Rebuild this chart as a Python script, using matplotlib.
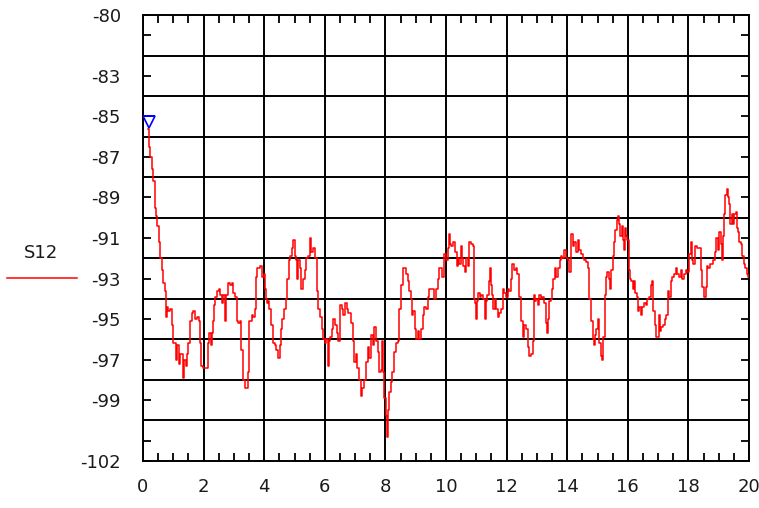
import matplotlib
matplotlib.use("Agg")
import matplotlib.pyplot as plt
from matplotlib.ticker import MultipleLocator, FixedLocator
from matplotlib.lines import Line2D
from matplotlib.transforms import ScaledTranslation

# ---- data ----
freq = [0.18, 0.22, 0.27, 0.32, 0.37, 0.40, 0.45, 0.50, 0.55, 0.60, 0.65, 0.70, 0.74, 0.78,
        0.80, 0.86, 0.92, 0.98, 1.02, 1.09, 1.11, 1.16, 1.21, 1.26, 1.35, 1.38, 1.43, 1.48,
        1.52, 1.55, 1.60, 1.63, 1.70, 1.75, 1.80, 1.87, 1.90, 1.96, 2.03, 2.14, 2.16, 2.22,
        2.26, 2.30, 2.33, 2.36, 2.41, 2.47, 2.52, 2.57, 2.63, 2.68, 2.72, 2.76, 2.83, 2.90,
        2.96, 3.01, 3.07, 3.12, 3.17,
        3.20, 3.26, 3.33, 3.42, 3.48, 3.53, 3.58, 3.62, 3.66, 3.70, 3.73, 3.81, 3.89, 3.96,
        4.00, 4.03, 4.07, 4.11, 4.14, 4.20, 4.26, 4.31, 4.37, 4.42, 4.48, 4.53, 4.57, 4.62,
        4.68, 4.73, 4.79, 4.84, 4.89, 4.92, 4.98, 5.02, 5.06, 5.11, 5.15, 5.20, 5.26, 5.31,
        5.36, 5.42, 5.48, 5.53, 5.59, 5.64, 5.70, 5.76, 5.81, 5.87, 5.92, 5.98, 6.03, 6.08,
        6.12, 6.15, 6.20, 6.25, 6.31, 6.36, 6.42, 6.48, 6.53, 6.58, 6.64, 6.70, 6.75, 6.81,
        6.89, 6.94, 7.00, 7.05, 7.10, 7.16, 7.21, 7.27, 7.33, 7.38, 7.44, 7.49, 7.55, 7.60,
        7.66, 7.71, 7.77, 7.82, 7.87, 7.91, 7.95, 7.99, 8.02, 8.06, 8.11, 8.15, 8.20, 8.26,
        8.32, 8.37, 8.43, 8.48, 8.54, 8.59, 8.65, 8.70, 8.76, 8.81, 8.86, 8.90, 8.94, 8.99,
        9.03, 9.09, 9.14, 9.20, 9.25, 9.30, 9.36, 9.42, 9.47, 9.52, 9.58, 9.63, 9.69, 9.75,
        9.80, 9.85, 9.91, 9.97, 10.02, 10.08, 10.11,
        10.15, 10.20, 10.24, 10.29, 10.33, 10.37, 10.42, 10.46, 10.52, 10.55, 10.59, 10.65,
        10.68, 10.74, 10.79, 10.85, 10.90, 10.93, 10.97, 11.01, 11.04, 11.09, 11.14, 11.20,
        11.25, 11.30, 11.34, 11.38, 11.43, 11.46, 11.49, 11.54, 11.58, 11.63, 11.67, 11.73,
        11.78, 11.84, 11.89, 11.95, 12.00, 12.06, 12.11, 12.16, 12.22, 12.27, 12.33, 12.38,
        12.44, 12.50, 12.55, 12.61, 12.66, 12.72, 12.77, 12.83, 12.88, 12.91, 12.96, 13.01,
        13.05,
        13.10, 13.15, 13.21, 13.27, 13.30, 13.34, 13.38, 13.43, 13.49, 13.52, 13.56, 13.62,
        13.67, 13.73, 13.78, 13.81, 13.87, 13.93, 13.98, 14.04, 14.09, 14.15, 14.20, 14.26,
        14.31, 14.37, 14.42, 14.48, 14.53, 14.58, 14.64, 14.70, 14.75, 14.81, 14.86, 14.90,
        14.94, 14.99, 15.05, 15.08, 15.14, 15.17, 15.21, 15.26, 15.30, 15.36, 15.41, 15.44,
        15.48, 15.52, 15.57, 15.61, 15.65, 15.70, 15.74, 15.77, 15.82, 15.85, 15.88, 15.92,
        15.96, 16.00, 16.05, 16.09, 16.14, 16.18, 16.22, 16.27, 16.31, 16.36, 16.40, 16.44,
        16.49, 16.55, 16.62, 16.68, 16.73, 16.79, 16.82, 16.86, 16.91, 16.95, 17.00, 17.04,
        17.08, 17.14, 17.19, 17.25, 17.30, 17.35, 17.39, 17.45, 17.50, 17.55, 17.61, 17.67,
        17.72, 17.78, 17.83, 17.89, 17.94, 18.00, 18.05, 18.11, 18.14, 18.18, 18.23, 18.27,
        18.33, 18.38, 18.44, 18.49, 18.55, 18.58, 18.62, 18.68, 18.73, 18.79, 18.84, 18.90,
        18.95, 19.00, 19.04, 19.08, 19.13, 19.16, 19.20, 19.24, 19.28, 19.33, 19.37, 19.40,
        19.45, 19.49, 19.54, 19.58, 19.62, 19.67, 19.70, 19.76, 19.80, 19.84, 19.90, 19.95,
        20.00]

s12_db = [-85.6, -86.5, -87.0, -87.6, -88.2, -89.5, -89.9, -90.4, -91.2, -92.0, -92.6, -93.2, -93.6, -94.9,
          -94.4, -94.6, -94.5, -95.3, -96.2, -96.2, -97.0, -96.3, -97.2, -96.7, -97.9, -97.0, -97.3, -96.7,
          -96.2, -95.1, -95.1, -94.7, -94.6, -95.0, -94.9, -95.1, -96.2, -97.3, -97.4, -97.4, -96.2, -95.7,
          -96.3, -95.7, -95.1, -94.3, -93.9, -93.6, -93.5, -93.8, -94.2, -93.8, -95.1, -93.8, -93.2, -93.3,
          -93.2, -93.7, -93.9, -95.1, -95.2,
          -95.1, -96.5, -98.0, -98.4, -97.6, -95.1, -95.1, -94.8, -94.9, -94.5, -92.9, -92.5, -92.4, -92.9,
          -92.8, -93.5, -94.0, -94.2, -94.1, -94.5, -95.3, -96.2, -96.3, -96.5, -96.9, -96.3, -95.5, -95.0,
          -94.5, -94.0, -93.0, -92.1, -91.9, -91.5, -91.1, -91.9, -92.1, -93.0, -92.1, -92.5, -93.5, -93.0,
          -92.6, -92.0, -91.9, -91.0, -91.7, -91.5, -92.0, -93.6, -94.5, -94.9, -95.5, -96.0, -96.2, -96.0,
          -97.3, -96.1, -95.9, -95.5, -95.0, -95.3, -95.7, -96.1, -94.3, -94.5, -94.8, -94.2, -94.5, -94.7,
          -95.2, -96.1, -97.1, -96.7, -97.4, -98.0, -98.8, -98.4, -98.0, -97.1, -96.4, -96.9, -95.8, -96.3,
          -95.4, -96.1, -96.6, -97.6, -97.5, -96.1, -97.6, -98.9, -99.8, -100.8, -99.5, -98.6, -98.1, -97.6,
          -96.6, -96.2, -96.1, -94.5, -93.3, -92.5, -92.5, -92.8, -93.1, -93.6, -94.0, -94.8, -94.6, -95.5,
          -96.0, -95.6, -96.0, -95.5, -94.8, -94.4, -94.5, -93.9, -93.5, -93.5, -93.5, -94.0, -93.5, -93.0,
          -92.5, -92.5, -92.9, -91.8, -92.1, -91.5, -90.8,
          -91.3, -91.4, -91.2, -91.2, -91.7, -92.4, -92.0, -92.3, -91.4, -92.0, -92.4, -92.7,
          -92.0, -92.4, -91.2, -91.3, -91.4, -94.0, -94.2, -95.0, -94.1, -93.7, -93.9, -93.8,
          -94.0, -95.0, -94.1, -93.8, -93.1, -92.5, -93.3, -93.8, -94.5, -94.0, -94.5, -94.9,
          -94.7, -94.5, -93.5, -93.7, -93.9, -93.5, -93.6, -93.0, -92.3, -92.6, -92.5, -92.8,
          -93.9, -95.1, -95.9, -95.3, -95.5, -96.4, -96.8, -96.7, -96.1, -93.8, -94.1, -94.0,
          -94.3,
          -93.8, -94.0, -93.9, -94.2, -95.2, -95.7, -95.0, -94.1, -94.0, -93.5, -93.0, -92.5,
          -92.9, -92.5, -92.1, -91.9, -92.0, -91.6, -92.0, -92.1, -92.7, -90.8, -91.4, -91.2,
          -91.7, -91.1, -91.6, -91.8, -92.0, -92.1, -92.2, -92.5, -94.0, -95.1, -96.0, -96.3,
          -95.8, -95.5, -95.0, -96.2, -96.8, -97.0, -95.9, -93.8, -92.9, -92.7, -93.0, -93.5,
          -92.6, -91.9, -91.2, -90.6, -90.1, -89.9, -90.3, -90.9, -90.4, -91.1, -91.6, -90.5,
          -90.9, -91.1, -92.6, -93.0, -93.1, -93.5, -93.1, -93.7, -93.9, -94.6, -94.4, -94.8,
          -94.4, -94.2, -94.3, -94.0, -93.9, -93.3, -93.1, -94.6, -95.3, -95.9, -95.9, -94.8,
          -95.6, -95.4, -95.3, -95.0, -94.8, -93.6, -93.9, -93.1, -92.9, -92.8, -92.5, -92.8,
          -92.9, -92.6, -93.0, -92.8, -92.6, -92.7, -91.8, -91.2, -92.1, -92.3, -91.4, -91.4,
          -91.5, -91.5, -92.6, -93.4, -93.9, -93.4, -92.4, -92.5, -92.3, -92.3, -92.1, -91.7,
          -91.0, -91.6, -90.7, -91.3, -92.1, -90.9, -89.8, -88.9, -88.6, -89.0, -89.3, -90.3,
          -89.8, -90.3, -89.8, -89.7, -90.5, -90.7, -91.2, -91.3, -91.9, -92.3, -92.5, -92.8,
          -92.9]

marker_x = [0.2]
marker_y = [-85.3]

x_ticks = [0, 2, 4, 6, 8, 10, 12, 14, 16, 18, 20]
x_labels = ["0", "2", "4", "6", "8", "10", "12", "14", "16", "18", "20"]
y_ticks = [-80, -81, -83, -85, -87, -89, -91, -93, -95, -97, -99, -101, -102]
y_labels = ["-80", "", "-83", "-85", "-87", "-89", "-91", "-93", "-95", "-97", "-99", "", "-102"]
y_grid = [-82, -84, -86, -88, -90, -92, -94, -96, -98, -100]
series_name = "S12"

# ---- figure ----
W, H = 759, 508
fig = plt.figure(figsize=(W / 100, H / 100), dpi=100, facecolor="white")
ax = fig.add_axes([143 / W, 1 - 461 / H, (749 - 143) / W, (461 - 15) / H])

ax.plot(freq, s12_db, color="#ff0000", lw=1.1, drawstyle="steps-mid", zorder=3)
ax.plot(marker_x, marker_y, marker="v", ms=8, mfc="none", mec="#0000ff", mew=1.2,
        ls="none", zorder=4)
ax.plot(marker_x, marker_y, marker="_", ms=9, mec="#0000ff", mew=1.4, ls="none", zorder=4,
        transform=ax.transData + ScaledTranslation(0, 5 / 72, fig.dpi_scale_trans))

ax.set_xlim(0, 20)
ax.set_ylim(-102, -80)

ax.xaxis.set_major_locator(FixedLocator(x_ticks))
ax.set_xticklabels(x_labels)
ax.xaxis.set_minor_locator(MultipleLocator(0.5))
ax.yaxis.set_major_locator(FixedLocator(y_ticks))
ax.set_yticklabels(y_labels)
ax.yaxis.set_minor_locator(FixedLocator(y_grid))

txt_color = "#1a1a1a"
ax.tick_params(axis="x", which="major", length=0, pad=12, labelsize=13, labelcolor=txt_color)
ax.tick_params(axis="x", which="minor", direction="in", length=6, width=1.3, top=True, bottom=True, color="black")
ax.tick_params(axis="y", which="major", direction="in", length=6, width=1.3, left=True, right=True,
               pad=16, labelsize=13, labelcolor=txt_color)
ax.tick_params(axis="y", which="minor", length=0)

ax.grid(which="major", axis="x", color="black", lw=1.4)
ax.grid(which="minor", axis="y", color="black", lw=1.4)
ax.set_axisbelow(True)

for s in ax.spines.values():
    s.set_color("black")
    s.set_linewidth(1.4)

# legend at left
fig.text(41 / W, 1 - 253 / H, series_name, ha="center", va="center", fontsize=13, color=txt_color)
fig.add_artist(Line2D([7 / W, 77 / W], [1 - 278 / H, 1 - 278 / H], color="#ff0000", lw=1.1))

fig.savefig("out.png", dpi=100, facecolor="white")
